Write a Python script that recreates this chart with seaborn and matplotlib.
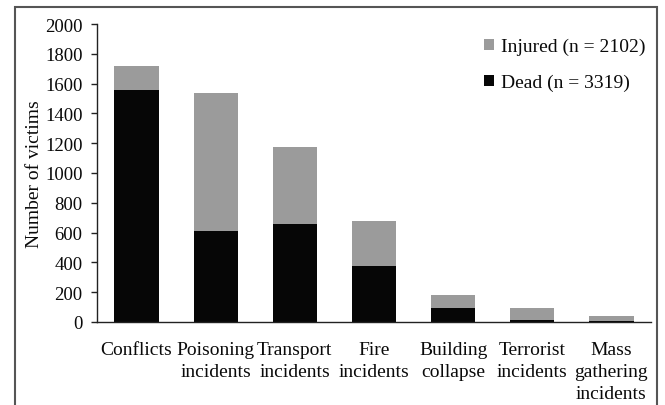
import matplotlib
matplotlib.use("Agg")
import matplotlib.pyplot as plt
import seaborn as sns
import pandas as pd
from matplotlib.patches import Patch, Rectangle

categories = ["Conflicts", "Poisoning\nincidents", "Transport\nincidents", "Fire\nincidents",
              "Building\ncollapse", "Terrorist\nincidents", "Mass\ngathering\nincidents"]
dead = [1556, 610, 661, 378, 95, 14, 5]
injured = [162, 928, 514, 298, 86, 80, 34]
y_ticks = [0, 200, 400, 600, 800, 1000, 1200, 1400, 1600, 1800, 2000]

df = pd.DataFrame({"Category": categories, "Dead": dead, "Injured": injured})
df["Total"] = df["Dead"] + df["Injured"]

sns.set_theme(style="white")
plt.rcParams["font.family"] = ["Liberation Serif", "DejaVu Serif"]

gray = "#9b9b9b"
black = "#060606"
txt = "#0a0a0a"

fig = plt.figure(figsize=(6.65, 4.06), dpi=100)
ax = fig.add_axes([97 / 665, 83 / 406, 554 / 665, 298 / 406])

sns.barplot(data=df, x="Category", y="Total", color=gray, width=0.56,
            saturation=1, edgecolor="none", ax=ax)
sns.barplot(data=df, x="Category", y="Dead", color=black, width=0.56,
            saturation=1, edgecolor="none", ax=ax)

ax.set_xlim(-0.5, len(categories) - 0.5)
ax.set_ylim(0, 2000)
ax.set_yticks(y_ticks)
ax.tick_params(axis="y", which="both", left=True, length=4.5, width=1, color="#222222",
               labelsize=13.5, pad=6, labelcolor=txt)
ax.tick_params(axis="x", bottom=False, labelsize=14, pad=8, labelcolor=txt)
for lbl in ax.get_xticklabels():
    lbl.set_linespacing(1.35)
    lbl.set_verticalalignment("top")
ax.set_xlabel("")
ax.set_ylabel("Number of victims", fontsize=14, color=txt, labelpad=1.5)

sns.despine(ax=ax)
for side in ["left", "bottom"]:
    ax.spines[side].set_color("#222222")
    ax.spines[side].set_linewidth(1.0)

handles = [Patch(facecolor=gray, edgecolor="none", label="Injured (n = 2102)"),
           Patch(facecolor=black, edgecolor="none", label="Dead (n = 3319)")]
ax.legend(handles=handles, loc="upper left", bbox_to_anchor=(0.667, 1.012), frameon=False,
          fontsize=14, handlelength=0.5, handleheight=0.5, handletextpad=0.35,
          labelspacing=0.95, labelcolor=txt)

fig.add_artist(Rectangle((15 / 665, -0.1), 642 / 665, 1.1 - 7.5 / 406,
                         transform=fig.transFigure, fill=False,
                         edgecolor="#555555", linewidth=1.5))

fig.savefig("out.png", dpi=100)
